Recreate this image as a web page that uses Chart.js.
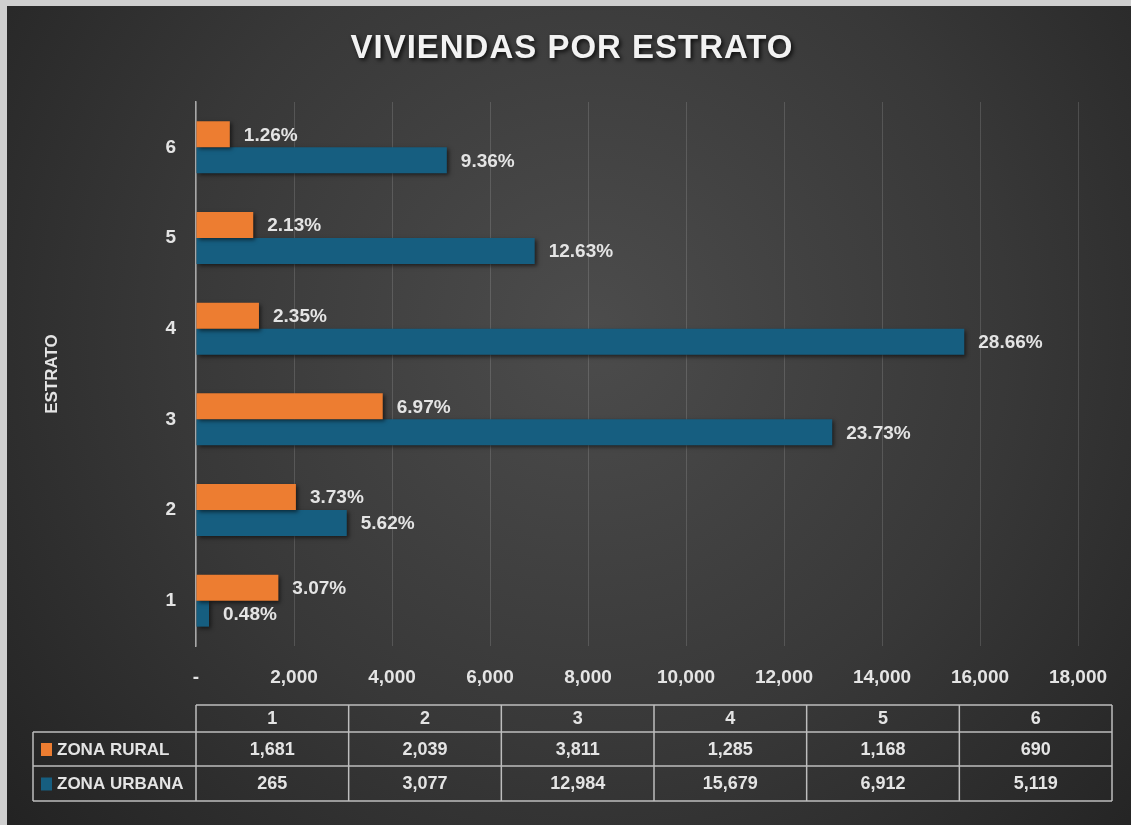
<!DOCTYPE html>
<html><head><meta charset="utf-8">
<script src="https://cdn.jsdelivr.net/npm/chart.js@4.4.0/dist/chart.umd.min.js"></script>
<style>html,body{margin:0;padding:0;background:#cfcfcf;} canvas{display:block;}</style>
</head><body>
<canvas id="c" width="1131" height="825"></canvas>
<script>
const chartTitle = 'VIVIENDAS POR ESTRATO';
const axisTitle = 'ESTRATO';
const categories = ['1', '2', '3', '4', '5', '6'];
const seriesNames = ['ZONA RURAL', 'ZONA URBANA'];
const ruralValues = [1681, 2039, 3811, 1285, 1168, 690];
const urbanValues = [265, 3077, 12984, 15679, 6912, 5119];
const ruralPercent = ['3.07%', '3.73%', '6.97%', '2.35%', '2.13%', '1.26%'];
const urbanPercent = ['0.48%', '5.62%', '23.73%', '28.66%', '12.63%', '9.36%'];
const xTickLabels = ['-', '2,000', '4,000', '6,000', '8,000', '10,000', '12,000', '14,000', '16,000', '18,000'];
const seriesColors = ['#ED7D31', '#165E80'];

const FONT = '"Liberation Sans", Arial, sans-serif';
const TXT = '#e4e4e4';

const percents = [ruralPercent, urbanPercent];

const deco = {
  id: 'deco',
  beforeDraw(chart) {
    const ctx = chart.ctx;
    ctx.save();
    ctx.fillStyle = '#cfcfcf';
    ctx.fillRect(0, 0, 1131, 825);
    const g = ctx.createRadialGradient(590, 330, 0, 590, 330, 760);
    g.addColorStop(0, '#4c4c4c');
    g.addColorStop(0.55, '#383838');
    g.addColorStop(1, '#232323');
    ctx.fillStyle = g;
    ctx.fillRect(7, 6, 1124, 819);
    ctx.restore();
  },
  beforeDatasetsDraw(chart) {
    const ctx = chart.ctx;
    ctx.save();
    ctx.shadowColor = 'rgba(0,0,0,0.55)';
    ctx.shadowBlur = 4;
    ctx.shadowOffsetX = 2;
    ctx.shadowOffsetY = 2;
  },
  afterDatasetsDraw(chart) {
    const ctx = chart.ctx;
    ctx.restore();
    ctx.save();
    ctx.font = 'bold 19px ' + FONT;
    ctx.fillStyle = TXT;
    ctx.textAlign = 'left';
    ctx.textBaseline = 'middle';
    chart.data.datasets.forEach((ds, di) => {
      const meta = chart.getDatasetMeta(di);
      meta.data.forEach((bar, i) => {
        ctx.fillText(percents[di][i], bar.x + 14, bar.y + 1);
      });
    });
    ctx.restore();
  },
  afterDraw(chart) {
    const ctx = chart.ctx;
    // title
    ctx.save();
    ctx.font = 'bold 33px ' + FONT;
    try { ctx.letterSpacing = '1px'; } catch (e) {}
    const w = ctx.measureText(chartTitle).width;
    const target = 443;
    ctx.translate(572, 49);
    ctx.scale(target / w, 1.02);
    ctx.textAlign = 'center';
    ctx.textBaseline = 'middle';
    ctx.shadowColor = 'rgba(0,0,0,0.8)';
    ctx.shadowBlur = 4;
    ctx.shadowOffsetX = 2;
    ctx.shadowOffsetY = 2;
    ctx.fillStyle = '#f2f2f2';
    ctx.fillText(chartTitle, 0, 0);
    ctx.restore();

    // data table
    const x0 = 196, x1 = 1112, xl = 33;
    const rows = [705, 732, 766, 801];
    const cw = (x1 - x0) / categories.length;
    ctx.save();
    ctx.strokeStyle = '#bdbdbd';
    ctx.lineWidth = 1.5;
    ctx.beginPath();
    ctx.moveTo(x0, rows[0]); ctx.lineTo(x1, rows[0]);
    for (let r = 1; r < rows.length; r++) { ctx.moveTo(xl, rows[r]); ctx.lineTo(x1, rows[r]); }
    ctx.moveTo(xl, rows[1]); ctx.lineTo(xl, rows[3]);
    for (let c = 0; c <= categories.length; c++) {
      const x = x0 + c * cw;
      ctx.moveTo(x, rows[0]); ctx.lineTo(x, rows[3]);
    }
    ctx.stroke();

    ctx.fillStyle = TXT;
    ctx.font = 'bold 18px ' + FONT;
    ctx.textAlign = 'center';
    ctx.textBaseline = 'middle';
    const tableRows = [ruralValues, urbanValues];
    categories.forEach((c, i) => {
      const cx = x0 + (i + 0.5) * cw;
      ctx.fillText(c, cx, (rows[0] + rows[1]) / 2 + 1);
      tableRows.forEach((vals, r) => {
        ctx.fillText(vals[i].toLocaleString('en-US'), cx, (rows[r + 1] + rows[r + 2]) / 2 + 1);
      });
    });
    ctx.textAlign = 'left';
    ctx.font = 'bold 17px ' + FONT;
    seriesNames.forEach((n, r) => {
      const cy = (rows[r + 1] + rows[r + 2]) / 2;
      ctx.fillStyle = seriesColors[r];
      ctx.fillRect(41, cy - 6, 11, 13);
      ctx.fillStyle = TXT;
      ctx.fillText(n, 57, cy + 1);
    });
    ctx.restore();
  }
};

new Chart(document.getElementById('c'), {
  type: 'bar',
  data: {
    labels: categories,
    datasets: [
      { label: seriesNames[0], data: ruralValues, backgroundColor: seriesColors[0] },
      { label: seriesNames[1], data: urbanValues, backgroundColor: seriesColors[1] }
    ]
  },
  options: {
    indexAxis: 'y',
    responsive: false,
    animation: false,
    devicePixelRatio: 1,
    layout: { padding: { left: 10, right: 53, top: 102, bottom: 135 } },
    datasets: { bar: { categoryPercentage: 0.573, barPercentage: 1.0 } },
    plugins: { legend: { display: false }, title: { display: false }, tooltip: { enabled: false } },
    scales: {
      x: {
        min: 0, max: 18000,
        ticks: {
          stepSize: 2000,
          padding: 20,
          color: TXT,
          font: { family: FONT, size: 19, weight: 'bold' },
          callback: (v, i) => xTickLabels[i]
        },
        grid: { color: 'rgba(255,255,255,0.14)', lineWidth: 1, drawTicks: false },
        border: { display: false },
        afterFit: (s) => { s.height = 44; }
      },
      y: {
        reverse: true,
        ticks: {
          padding: 20,
          color: TXT,
          font: { family: FONT, size: 19, weight: 'bold' }
        },
        grid: { display: false, drawTicks: false },
        border: { display: true, color: '#a8a8a8', width: 1.5 },
        title: {
          display: true, text: axisTitle, color: TXT,
          font: { family: FONT, size: 17, weight: 'bold' },
          padding: { top: 32, bottom: 0 }
        },
        afterFit: (s) => { s.width = 186; }
      }
    }
  },
  plugins: [deco]
});
</script>
</body></html>
